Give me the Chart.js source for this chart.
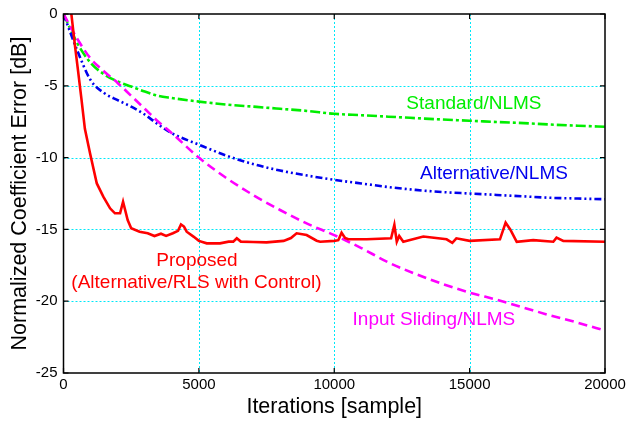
<!DOCTYPE html>
<html>
<head>
<meta charset="utf-8">
<script src="https://cdn.jsdelivr.net/npm/chart.js@4.4.1/dist/chart.umd.min.js"></script>
<style>
  html, body { margin: 0; padding: 0; background: #fff; }
  #wrap { width: 626px; height: 421px; }
</style>
</head>
<body>
<div id="wrap"><canvas id="nce"></canvas></div>
<script>
// Iterations for the smooth curves
var iters = [0, 500, 1000, 1500, 2000, 2500, 3000, 3500, 4000, 5000, 6000, 7000, 8000, 9000,
  10000, 11000, 12000, 13000, 14000, 15000, 16000, 17000, 18000, 19000, 20000];

var standardNlms = [0, -2.0, -3.4, -4.2, -4.7, -5.05, -5.4, -5.7, -5.85, -6.1, -6.3, -6.45, -6.6, -6.75,
  -6.95, -7.05, -7.15, -7.25, -7.35, -7.43, -7.52, -7.6, -7.7, -7.78, -7.85];

var alternativeNlms = [0, -2.5, -4.6, -5.5, -6.0, -6.45, -7.0, -7.7, -8.3, -9.1, -9.85, -10.45, -10.9, -11.25,
  -11.55, -11.8, -12.05, -12.25, -12.4, -12.5, -12.6, -12.7, -12.8, -12.85, -12.9];

var inputSliding = [0, -1.7, -3.1, -4.0, -4.8, -5.7, -6.6, -7.5, -8.3, -10.0, -11.4, -12.6, -13.65, -14.6,
  -15.4, -16.3, -17.3, -18.1, -18.8, -19.4, -19.9, -20.45, -21.0, -21.5, -22.05];

// Proposed (Alternative/RLS with Control), irregular samples
var proposedX = [260, 420, 540, 660, 790, 980, 1230, 1470, 1720, 1900, 2090, 2200, 2370, 2500, 2810, 3110,
  3360, 3600, 3790, 4040, 4230, 4340, 4450, 4550, 4800, 5000, 5290, 5780, 6100, 6270, 6400, 6550, 7000,
  7500, 8130, 8400, 8610, 8980, 9350, 9480, 10000, 10150, 10270, 10400, 10520, 11200, 12100, 12220, 12310,
  12400, 12550, 13290, 14150, 14360, 14510, 15000, 16120, 16330, 16500, 16740, 17350, 18090, 18210, 18460, 20000];
var proposedY = [0.5, -2.15, -4.0, -5.87, -8.0, -9.7, -11.8, -12.72, -13.53, -13.88, -13.88, -13.07, -14.35, -14.92, -15.16, -15.27,
  -15.46, -15.3, -15.45, -15.27, -15.1, -14.65, -14.8, -15.16, -15.5, -15.8, -15.97, -15.97, -15.85, -15.85, -15.62, -15.85, -15.88,
  -15.9, -15.8, -15.6, -15.27, -15.39, -15.79, -15.86, -15.8, -15.75, -15.23, -15.6, -15.69, -15.69, -15.62, -14.69, -15.86,
  -15.46, -15.86, -15.5, -15.69, -15.93, -15.62, -15.8, -15.69, -14.53, -15.0, -15.86, -15.75, -15.86, -15.57, -15.8, -15.86];

var xTicks = [0, 5000, 10000, 15000, 20000];
var yTicks = [-25, -20, -15, -10, -5, 0];

function pts(xs, ys) {
  return xs.map(function (x, i) { return { x: x, y: ys[i] }; });
}

var FONT = '"Liberation Sans", Arial, Helvetica, sans-serif';

// labels placed in data coordinates
var notes = [
  { text: 'Standard/NLMS', color: '#00ee00', x: 15160, y: -6.27 },
  { text: 'Alternative/NLMS', color: '#0000ee', x: 15900, y: -11.1 },
  { text: 'Proposed', color: '#ff0000', x: 4930, y: -17.2 },
  { text: '(Alternative/RLS with Control)', color: '#ff0000', x: 4910, y: -18.75 },
  { text: 'Input Sliding/NLMS', color: '#ff00ff', x: 13680, y: -21.3 }
];

// dotted cyan grid on the inner ticks
var gridPlugin = {
  id: 'dotgrid',
  beforeDatasetsDraw: function (chart) {
    var ctx = chart.ctx, a = chart.chartArea, xs = chart.scales.x, ys = chart.scales.y;
    ctx.save();
    ctx.strokeStyle = '#00e8f8';
    ctx.lineWidth = 1;
    ctx.setLineDash([2, 2]);
    ctx.beginPath();
    xTicks.slice(1, -1).forEach(function (v) {
      var px = Math.round(xs.getPixelForValue(v)) + 0.5;
      ctx.moveTo(px, a.top); ctx.lineTo(px, a.bottom);
    });
    yTicks.slice(1, -1).forEach(function (v) {
      var py = Math.round(ys.getPixelForValue(v)) + 0.5;
      ctx.moveTo(a.left, py); ctx.lineTo(a.right, py);
    });
    ctx.stroke();
    ctx.restore();
  }
};

var framePlugin = {
  id: 'frame',
  afterDatasetsDraw: function (chart) {
    var ctx = chart.ctx, a = chart.chartArea, xs = chart.scales.x, ys = chart.scales.y;
    ctx.save();
    ctx.strokeStyle = '#000';
    ctx.lineWidth = 1.5;
    ctx.strokeRect(a.left, a.top, a.right - a.left, a.bottom - a.top);
    ctx.lineWidth = 1.2;
    ctx.beginPath();
    xTicks.forEach(function (v) {
      var px = xs.getPixelForValue(v);
      ctx.moveTo(px, a.bottom); ctx.lineTo(px, a.bottom - 5);
      ctx.moveTo(px, a.top); ctx.lineTo(px, a.top + 5);
    });
    yTicks.forEach(function (v) {
      var py = ys.getPixelForValue(v);
      ctx.moveTo(a.left, py); ctx.lineTo(a.left + 5, py);
      ctx.moveTo(a.right, py); ctx.lineTo(a.right - 5, py);
    });
    ctx.stroke();

    ctx.font = '19px ' + FONT;
    ctx.textAlign = 'center';
    ctx.textBaseline = 'middle';
    notes.forEach(function (n) {
      ctx.fillStyle = n.color;
      ctx.fillText(n.text, xs.getPixelForValue(n.x), ys.getPixelForValue(n.y));
    });
    ctx.restore();
  }
};

function plain(v) { return String(v); }

new Chart(document.getElementById('nce'), {
  type: 'line',
  data: {
    datasets: [
      {
        label: 'Proposed', data: pts(proposedX, proposedY),
        borderColor: '#ff0000', borderWidth: 2.6, tension: 0, pointRadius: 0, order: 0,
        clip: { left: 0, top: 0, right: 0, bottom: 0 }
      },
      {
        label: 'Input Sliding/NLMS', data: pts(iters, inputSliding),
        borderColor: '#ff00ff', borderWidth: 2.6, borderDash: [9, 5],
        cubicInterpolationMode: 'monotone', pointRadius: 0, order: 1
      },
      {
        label: 'Alternative/NLMS', data: pts(iters, alternativeNlms),
        borderColor: '#0000ee', borderWidth: 2.6, borderDash: [7, 3, 2, 3, 2, 3],
        cubicInterpolationMode: 'monotone', pointRadius: 0, order: 2
      },
      {
        label: 'Standard/NLMS', data: pts(iters, standardNlms),
        borderColor: '#00ee00', borderWidth: 2.6, borderDash: [10, 3, 3, 3],
        cubicInterpolationMode: 'monotone', pointRadius: 0, order: 3
      }
    ]
  },
  options: {
    responsive: true, maintainAspectRatio: false, animation: false,
    layout: { padding: { top: 14, right: 21, bottom: 0, left: 0 } },
    plugins: { legend: { display: false }, tooltip: { enabled: false } },
    scales: {
      x: {
        type: 'linear', min: 0, max: 20000,
        afterBuildTicks: function (s) { s.ticks = xTicks.map(function (v) { return { value: v }; }); },
        afterFit: function (s) { s.height = 48; s.paddingLeft = 0; s.paddingRight = 0; },
        ticks: { color: '#000', padding: 3, maxRotation: 0, callback: plain, font: { family: FONT, size: 15 } },
        grid: { display: false, drawTicks: false },
        border: { display: false },
        title: { display: true, text: 'Iterations [sample]', color: '#000', padding: { top: 0, bottom: 1 }, font: { family: FONT, size: 21.5 } }
      },
      y: {
        type: 'linear', min: -25, max: 0,
        afterBuildTicks: function (s) { s.ticks = yTicks.map(function (v) { return { value: v }; }); },
        afterFit: function (s) { s.width = 63.5; s.paddingTop = 0; s.paddingBottom = 0; },
        ticks: { color: '#000', padding: 6, callback: plain, font: { family: FONT, size: 15 } },
        grid: { display: false, drawTicks: false },
        border: { display: false },
        title: { display: true, text: 'Normalized Coefficient Error [dB]', color: '#000', padding: { top: 7, bottom: 0 }, font: { family: FONT, size: 21.5 } }
      }
    }
  },
  plugins: [gridPlugin, framePlugin]
});
</script>
</body>
</html>
